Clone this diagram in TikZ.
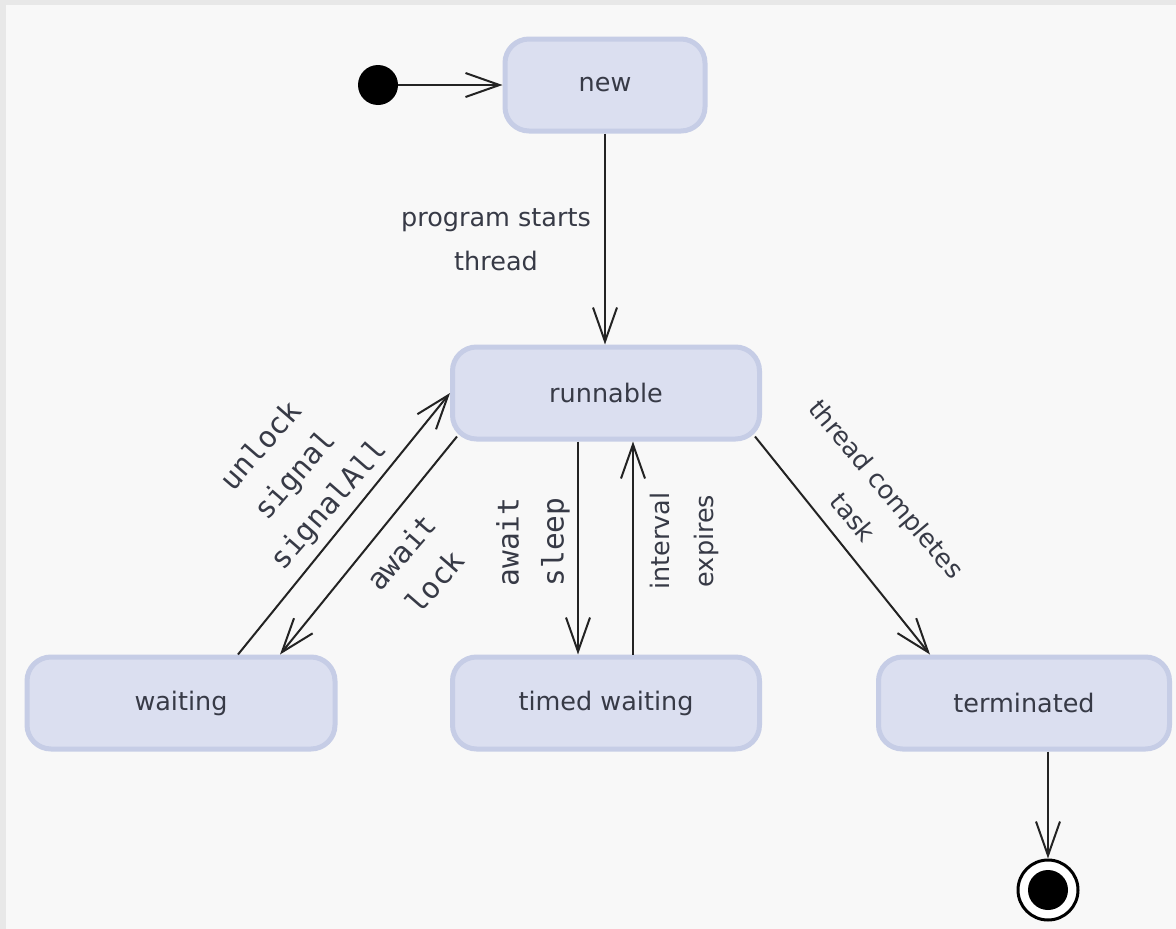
\documentclass[tikz,border=0pt]{standalone}
\usepackage{fontspec}
\setmainfont{DejaVu Sans}
\newfontfamily\monofont{DejaVu Sans Mono}
\usetikzlibrary{arrows.meta}
\definecolor{bgouter}{RGB}{232,232,232}
\definecolor{bginner}{RGB}{248,248,248}
\definecolor{statefill}{RGB}{219,223,240}
\definecolor{stateedge}{RGB}{198,205,230}
\definecolor{statetext}{RGB}{55,58,70}
\definecolor{linecol}{RGB}{35,35,35}
\tikzset{
  statebox/.style={draw=stateedge, fill=statefill, line width=5pt, rounded corners=24pt,
    minimum height=92pt, text=statetext, font=\fontsize{25.5}{30}\selectfont, inner sep=0pt},
  conn/.style={draw=linecol, line width=2pt, -{Straight Barb[length=34pt,width=24pt]}},
  lbl/.style={text=statetext, font=\fontsize{25.5}{44}\selectfont, align=center, inner sep=0pt},
  mlbl/.style={text=statetext, font=\monofont\fontsize{29.5}{45}\selectfont, align=center, inner sep=0pt},
}
\begin{document}
\begin{tikzpicture}[x=1pt,y=-1pt]
\useasboundingbox (0,0) rectangle (1176,929);
\fill[bgouter] (0,0) rectangle (1176,929);
\fill[bginner] (6,5) rectangle (1176,929);

\node[statebox, minimum width=200pt] (new) at (605,85) {new};
\node[statebox, minimum width=307pt] (run) at (606,393) {runnable};
\node[statebox, minimum width=308pt] (wait) at (181,703) {waiting};
\node[statebox, minimum width=307pt] (timed) at (606,703) {timed waiting};
\node[statebox, minimum width=291pt] (term) at (1024,703) {terminated};

\node[circle, fill=black, minimum size=40pt, inner sep=0pt] (init) at (378,85) {};
\node[circle, draw=black, line width=3pt, fill=white, minimum size=60pt, inner sep=0pt] (final) at (1048,890) {};
\node[circle, fill=black, minimum size=40pt, inner sep=0pt] (finaldot) at (1048,890) {};

\draw[conn] (init.east) -- (new.west);
\draw[conn] (new.south) -- (new.south |- run.north);
\draw[conn] ([xshift=57pt]wait.north) -- (run.west);
\draw[conn] ([xshift=7pt,yshift=5pt]run.south west) -- ([xshift=99pt]wait.north);
\draw[conn] ([xshift=-28pt]run.south) -- ([xshift=-28pt]timed.north);
\draw[conn] ([xshift=27pt]timed.north) -- ([xshift=27pt]run.south);
\draw[conn] ([xshift=-7pt,yshift=5pt]run.south east) -- ([xshift=-94pt]term.north);
\draw[conn] ([xshift=24pt]term.south) -- (final.north);

\node[lbl] (lstart) at (496,240) {program starts\\thread};
\node[mlbl, rotate=49] (lunlock) at (296,476) {unlock\\signal\\signalAll};
\node[mlbl, rotate=49] (lawaitlock) at (418,567) {await\\lock};
\node[mlbl, rotate=90] (lsleep) at (533,542) {await\\sleep};
\node[lbl, rotate=90] (linterval) at (684,541) {interval\\expires};
\node[lbl, rotate=-50] (lcomplete) at (870,503) {thread completes\\task};
\end{tikzpicture}
\end{document}
